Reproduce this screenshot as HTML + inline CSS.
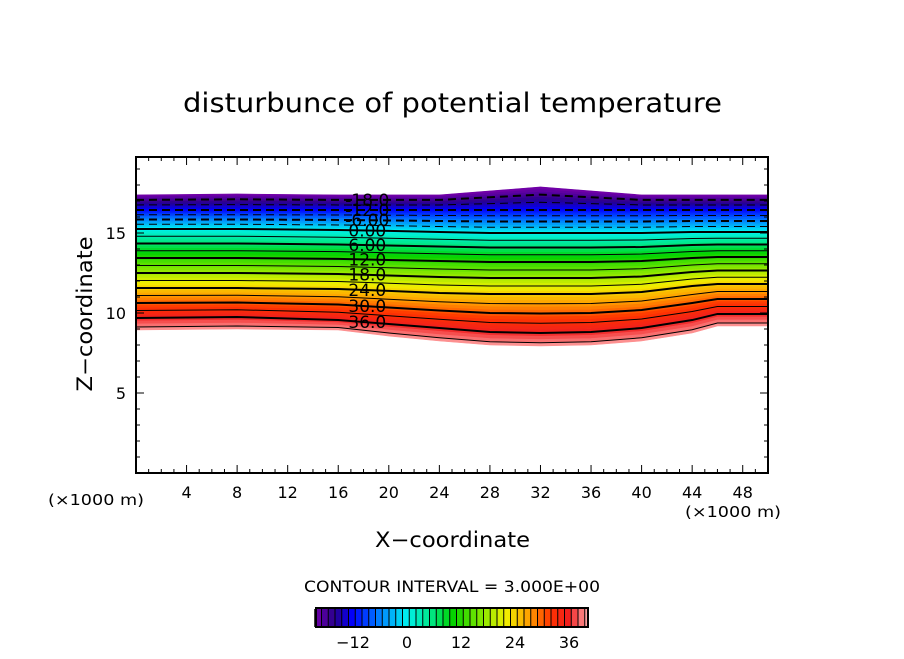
<!DOCTYPE html>
<html><head><meta charset="utf-8"><style>
body{margin:0;background:#fff}
svg text{font-family:"DejaVu Sans","Liberation Sans",sans-serif;fill:#000}
</style></head><body>
<svg id="c" width="904" height="654" viewBox="0 0 904 654">
<text x="183" y="112" font-size="27" textLength="539" lengthAdjust="spacingAndGlyphs">disturbunce of potential temperature</text>
<g id="fills"></g><g id="lines"></g><g id="labels"></g>
<rect x="136" y="157" width="632" height="316" fill="none" stroke="#000" stroke-width="2"/>
<g id="axes"></g>
<text x="375" y="547" font-size="21" textLength="155" lengthAdjust="spacingAndGlyphs">X−coordinate</text>
<text x="0" y="0" font-size="21" text-anchor="middle" textLength="155" lengthAdjust="spacingAndGlyphs" transform="translate(92,314) rotate(-90)">Z−coordinate</text>
<text x="48" y="505" font-size="15" textLength="96" lengthAdjust="spacingAndGlyphs">(×1000 m)</text>
<text x="685" y="517" font-size="15" textLength="96" lengthAdjust="spacingAndGlyphs">(×1000 m)</text>
<text x="304" y="592" font-size="16" textLength="296" lengthAdjust="spacingAndGlyphs">CONTOUR INTERVAL = 3.000E+00</text>
<g id="cbar"></g>
</svg>
<script>
const xs=[0,8,16,20,24,28,32,36,40,44,46,50];
const keyLevels=[-21,-12,0,12,24,36,40];
const zTop=[17.38,17.44,17.38,17.38,17.38,17.63,17.88,17.63,17.38,17.38,17.38,17.38];
const zM12=[16.44,16.44,16.44,16.44,16.44,16.44,16.44,16.44,16.44,16.44,16.44,16.44];
const z0=[15.25,15.25,15.19,15.13,15.06,15.0,15.0,15.0,15.0,15.06,15.06,15.06];
const z12=[13.44,13.44,13.38,13.31,13.25,13.19,13.19,13.19,13.25,13.44,13.5,13.5];
const z24=[11.56,11.56,11.5,11.38,11.25,11.19,11.19,11.19,11.31,11.69,11.81,11.81];
const z36=[9.69,9.75,9.56,9.31,9.06,8.81,8.75,8.81,9.06,9.56,9.94,9.94];
const z40=[8.94,9.0,8.94,8.56,8.25,8.0,7.94,8.0,8.25,8.75,9.19,9.19];
const profiles=[zTop,zM12,z0,z12,z24,z36,z40];
const xTicks=[4,8,12,16,20,24,28,32,36,40,44,48];
const yTicks=[5,10,15];
const cbarTicks=[-12,0,12,24,36];
const contourLabels=["-18.0","-12.0","-6.00","0.00","6.00","12.0","18.0","24.0","30.0","36.0"];
const labelLevels=[-18,-12,-6,0,6,12,18,24,30,36];

const NS="http://www.w3.org/2000/svg";
const X=v=>136+v*632/50, Y=z=>473-z*16;
function el(t,a,p){const e=document.createElementNS(NS,t);for(const k in a)e.setAttribute(k,a[k]);document.getElementById(p).appendChild(e);return e;}
function zAt(L,i){
  for(let k=0;k<keyLevels.length-1;k++){
    if(L>=keyLevels[k]&&L<=keyLevels[k+1]){const t=(L-keyLevels[k])/(keyLevels[k+1]-keyLevels[k]);return profiles[k][i]+t*(profiles[k+1][i]-profiles[k][i]);}
  }
  return L<keyLevels[0]?profiles[0][i]:profiles[profiles.length-1][i];
}
const stops=[[-21,[120,0,170]],[-16,[40,0,140]],[-12,[0,0,255]],[-6,[0,130,255]],[0,[0,240,240]],[6,[0,230,120]],[10,[0,210,0]],[16,[120,230,0]],[22,[240,240,0]],[27,[255,160,0]],[32,[255,50,0]],[36,[240,30,30]],[40,[255,160,160]]];
function col(v){for(let k=0;k<stops.length-1;k++){const[a,ca]=stops[k],[b,cb]=stops[k+1];if(v<=b){const t=Math.max(0,(v-a)/(b-a));return`rgb(${ca.map((c,j)=>Math.round(c+t*(cb[j]-c))).join(',')})`;}}return'rgb(255,160,160)';}
for(let L=-21;L<40;L+=1){
  let pts=[];
  for(let i=0;i<xs.length;i++)pts.push(X(xs[i])+','+Y(zAt(L,i)));
  for(let i=xs.length-1;i>=0;i--)pts.push(X(xs[i])+','+Y(zAt(L+1,i)));
  const p=el('polygon',{points:pts.join(' '),fill:col(L+0.5),stroke:col(L+0.5),'stroke-width':0.6},'fills');
  
  
}
for(let L=-18;L<=39;L+=3){
  let d='';
  for(let i=0;i<xs.length;i++)d+=(i?'L':'M')+X(xs[i])+','+Y(zAt(L,i));
  const labeled=labelLevels.includes(L);
  const a={d:d,fill:'none',stroke:'#000','stroke-width':labeled?2:1};
  if(L<0)a['stroke-dasharray']='8,5';
  const p=el('path',a,'lines');
  
  
}
labelLevels.forEach((L,j)=>{
  const zz=zAt(L,3)*0.5+zAt(L,2)*0.5;
  const t=el('text',{x:X(18.3),y:Y(zz)+6,'font-size':17,'text-anchor':'middle'},'labels');
  t.textContent=contourLabels[j];
  
  
});
for(let v=1;v<50;v++){
  const big=v%4===0,len=big?8:4;
  el('line',{x1:X(v),x2:X(v),y1:473,y2:473-len,stroke:'#000','stroke-width':1},'axes');
  el('line',{x1:X(v),x2:X(v),y1:157,y2:157+len,stroke:'#000','stroke-width':1},'axes');
}
for(let z=1;z<20;z++){
  const big=z%5===0,len=big?8:4;
  el('line',{x1:136,x2:136+len,y1:Y(z),y2:Y(z),stroke:'#000','stroke-width':1},'axes');
  el('line',{x1:768,x2:768-len,y1:Y(z),y2:Y(z),stroke:'#000','stroke-width':1},'axes');
}
xTicks.forEach(v=>{const t=el('text',{x:X(v),y:498,'font-size':16,'text-anchor':'middle'},'axes');t.textContent=v;
});
yTicks.forEach(v=>{const t=el('text',{x:126,y:Y(v)+6,'font-size':16,'text-anchor':'end'},'axes');t.textContent=v;
});
const CX=v=>407+v*4.5;
for(let v=-20.5;v<39.9;v+=1.5){
  const w=Math.min(1.5,40.2-v)*4.5;
  const r=el('rect',{x:CX(v),y:609,width:w,height:18,fill:col(v+0.75)},'cbar');
  
  el('line',{x1:CX(v),x2:CX(v),y1:609,y2:627,stroke:'#000','stroke-width':1},'cbar');
}
el('rect',{x:316,y:608,width:272,height:19,fill:'none',stroke:'#000','stroke-width':2},'cbar');
cbarTicks.forEach(v=>{const t=el('text',{x:CX(v),y:648,'font-size':16,'text-anchor':'middle'},'cbar');t.textContent=(v<0?'−'+(-v):v);
});
</script>
</body></html>
